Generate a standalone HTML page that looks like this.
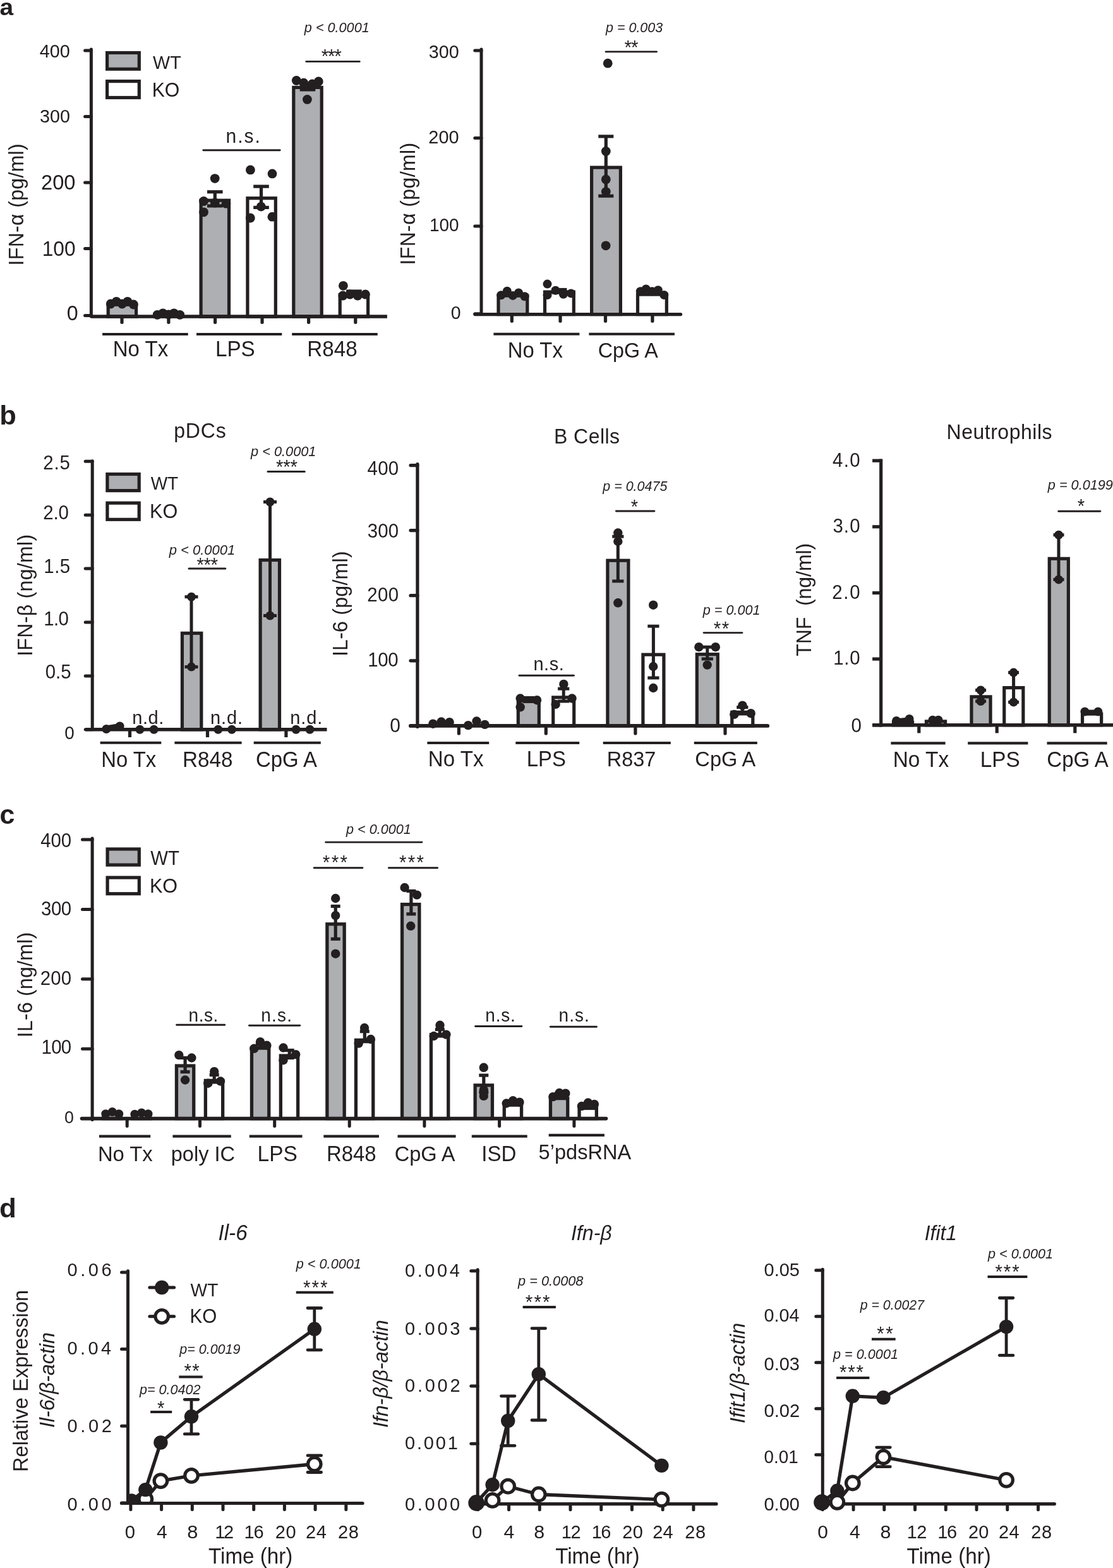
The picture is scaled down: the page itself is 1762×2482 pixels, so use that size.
<!DOCTYPE html>
<html lang="en"><head><meta charset="utf-8"><title>Figure</title>
<style>
html,body{margin:0;padding:0;background:#fff;}
body{width:1762px;height:2482px;overflow:hidden;}
svg{display:block;}
svg text{font-family:"Liberation Sans",Arial,Helvetica,sans-serif;fill:#231f20;}
</style></head>
<body>
<svg width="1762" height="2482" viewBox="0 0 1762 2482">
<rect x="0" y="0" width="1762" height="2482" fill="#ffffff"/>
<g id="panel-a1">
<text transform="translate(-0.57 23.80) scale(1.0383 1)" style="font-size:37.44px;font-weight:bold;">a</text>
<text transform="translate(37.20 420.46) rotate(-90) scale(0.9615 1)" style="font-size:33.28px;letter-spacing:0.359px;white-space:pre;" xml:space="preserve">IFN-α (pg/ml)</text>
<rect x="171.20" y="482.10" width="44.40" height="18.90" fill="#adafb2" stroke="#231f20" stroke-width="5.2"/>
<rect x="244.80" y="497.60" width="44.40" height="3.40" fill="#fff" stroke="#231f20" stroke-width="5.2"/>
<rect x="318.10" y="317.20" width="44.40" height="183.80" fill="#adafb2" stroke="#231f20" stroke-width="5.2"/>
<rect x="391.90" y="313.70" width="44.40" height="187.30" fill="#fff" stroke="#231f20" stroke-width="5.2"/>
<rect x="464.80" y="138.40" width="44.40" height="362.60" fill="#adafb2" stroke="#231f20" stroke-width="5.2"/>
<rect x="538.20" y="466.50" width="44.40" height="34.50" fill="#fff" stroke="#231f20" stroke-width="5.2"/>
<line x1="340.30" y1="303.70" x2="340.30" y2="325.90" stroke="#231f20" stroke-width="5.2" stroke-linecap="butt"/>
<line x1="328.00" y1="303.70" x2="352.60" y2="303.70" stroke="#231f20" stroke-width="5.2" stroke-linecap="butt"/>
<line x1="328.00" y1="325.90" x2="352.60" y2="325.90" stroke="#231f20" stroke-width="5.2" stroke-linecap="butt"/>
<line x1="413.50" y1="295.10" x2="413.50" y2="328.40" stroke="#231f20" stroke-width="5.2" stroke-linecap="butt"/>
<line x1="401.20" y1="295.10" x2="425.80" y2="295.10" stroke="#231f20" stroke-width="5.2" stroke-linecap="butt"/>
<line x1="401.20" y1="328.40" x2="425.80" y2="328.40" stroke="#231f20" stroke-width="5.2" stroke-linecap="butt"/>
<line x1="487.00" y1="133.00" x2="487.00" y2="141.90" stroke="#231f20" stroke-width="5.2" stroke-linecap="butt"/>
<line x1="474.70" y1="133.00" x2="499.30" y2="133.00" stroke="#231f20" stroke-width="5.2" stroke-linecap="butt"/>
<line x1="474.70" y1="141.90" x2="499.30" y2="141.90" stroke="#231f20" stroke-width="5.2" stroke-linecap="butt"/>
<line x1="560.40" y1="461.00" x2="560.40" y2="467.00" stroke="#231f20" stroke-width="5.2" stroke-linecap="butt"/>
<line x1="548.10" y1="461.00" x2="572.70" y2="461.00" stroke="#231f20" stroke-width="5.2" stroke-linecap="butt"/>
<line x1="548.10" y1="467.00" x2="572.70" y2="467.00" stroke="#231f20" stroke-width="5.2" stroke-linecap="butt"/>
<line x1="144.40" y1="77.90" x2="144.40" y2="501.00" stroke="#231f20" stroke-width="5.0" stroke-linecap="round"/>
<line x1="134.60" y1="79.90" x2="144.40" y2="79.90" stroke="#231f20" stroke-width="5.0" stroke-linecap="round"/>
<line x1="134.60" y1="184.50" x2="144.40" y2="184.50" stroke="#231f20" stroke-width="5.0" stroke-linecap="round"/>
<line x1="134.60" y1="289.10" x2="144.40" y2="289.10" stroke="#231f20" stroke-width="5.0" stroke-linecap="round"/>
<line x1="134.60" y1="393.60" x2="144.40" y2="393.60" stroke="#231f20" stroke-width="5.0" stroke-linecap="round"/>
<line x1="134.60" y1="499.50" x2="144.40" y2="499.50" stroke="#231f20" stroke-width="5.0" stroke-linecap="round"/>
<line x1="144.40" y1="501.00" x2="612.90" y2="501.00" stroke="#231f20" stroke-width="5.4" stroke-linecap="butt"/>
<line x1="193.00" y1="501.00" x2="193.00" y2="510.20" stroke="#231f20" stroke-width="5.2" stroke-linecap="round"/>
<line x1="266.90" y1="501.00" x2="266.90" y2="510.20" stroke="#231f20" stroke-width="5.2" stroke-linecap="round"/>
<line x1="340.60" y1="501.00" x2="340.60" y2="510.20" stroke="#231f20" stroke-width="5.2" stroke-linecap="round"/>
<line x1="415.00" y1="501.00" x2="415.00" y2="510.20" stroke="#231f20" stroke-width="5.2" stroke-linecap="round"/>
<line x1="488.60" y1="501.00" x2="488.60" y2="510.20" stroke="#231f20" stroke-width="5.2" stroke-linecap="round"/>
<line x1="562.80" y1="501.00" x2="562.80" y2="510.20" stroke="#231f20" stroke-width="5.2" stroke-linecap="round"/>
<text transform="translate(62.75 91.00) scale(0.9615 1)" style="font-size:30.02px;">400</text>
<text transform="translate(62.92 194.00) scale(0.9615 1)" style="font-size:29.91px;">300</text>
<text transform="translate(65.07 300.20) scale(0.9615 1)" style="font-size:33.96px;">200</text>
<text transform="translate(66.73 405.20) scale(0.9615 1)" style="font-size:32.91px;">100</text>
<text transform="translate(105.81 507.10) scale(0.9615 1)" style="font-size:33.54px;">0</text>
<circle cx="175.20" cy="481.00" r="7.4" fill="#231f20"/>
<circle cx="184.30" cy="477.30" r="7.4" fill="#231f20"/>
<circle cx="193.30" cy="481.00" r="7.4" fill="#231f20"/>
<circle cx="201.90" cy="477.30" r="7.4" fill="#231f20"/>
<circle cx="211.40" cy="482.00" r="7.4" fill="#231f20"/>
<circle cx="249.10" cy="498.30" r="7.4" fill="#231f20"/>
<circle cx="257.90" cy="495.80" r="7.4" fill="#231f20"/>
<circle cx="266.90" cy="497.80" r="7.4" fill="#231f20"/>
<circle cx="275.40" cy="495.80" r="7.4" fill="#231f20"/>
<circle cx="284.70" cy="498.30" r="7.4" fill="#231f20"/>
<circle cx="340.20" cy="282.60" r="7.4" fill="#231f20"/>
<circle cx="322.50" cy="318.50" r="7.4" fill="#231f20"/>
<circle cx="322.50" cy="335.80" r="7.4" fill="#231f20"/>
<circle cx="357.90" cy="322.20" r="7.4" fill="#231f20"/>
<circle cx="340.30" cy="321.00" r="7.4" fill="#231f20"/>
<circle cx="396.40" cy="268.90" r="7.4" fill="#231f20"/>
<circle cx="431.00" cy="274.90" r="7.4" fill="#231f20"/>
<circle cx="413.30" cy="327.10" r="7.4" fill="#231f20"/>
<circle cx="396.30" cy="345.00" r="7.4" fill="#231f20"/>
<circle cx="430.90" cy="343.20" r="7.4" fill="#231f20"/>
<circle cx="469.30" cy="127.50" r="7.4" fill="#231f20"/>
<circle cx="480.80" cy="131.20" r="7.4" fill="#231f20"/>
<circle cx="494.30" cy="133.00" r="7.4" fill="#231f20"/>
<circle cx="504.30" cy="129.00" r="7.4" fill="#231f20"/>
<circle cx="486.40" cy="157.40" r="7.4" fill="#231f20"/>
<circle cx="543.40" cy="452.30" r="7.4" fill="#231f20"/>
<circle cx="542.80" cy="468.00" r="7.4" fill="#231f20"/>
<circle cx="554.00" cy="466.00" r="7.4" fill="#231f20"/>
<circle cx="566.20" cy="468.00" r="7.4" fill="#231f20"/>
<circle cx="578.40" cy="466.00" r="7.4" fill="#231f20"/>
<line x1="162.10" y1="529.00" x2="297.70" y2="529.00" stroke="#231f20" stroke-width="4.1" stroke-linecap="butt"/>
<line x1="311.00" y1="529.00" x2="446.30" y2="529.00" stroke="#231f20" stroke-width="4.1" stroke-linecap="butt"/>
<line x1="462.20" y1="529.00" x2="597.70" y2="529.00" stroke="#231f20" stroke-width="4.1" stroke-linecap="butt"/>
<text transform="translate(178.78 563.80) scale(0.9615 1)" style="font-size:34.31px;">No Tx</text>
<text transform="translate(340.96 563.90) scale(0.9615 1)" style="font-size:34.57px;">LPS</text>
<text transform="translate(486.26 563.90) scale(0.9615 1)" style="font-size:34.53px;">R848</text>
<rect x="169.60" y="83.50" width="50.70" height="25.80" fill="#adafb2" stroke="#231f20" stroke-width="5.2"/>
<rect x="169.60" y="128.60" width="50.70" height="25.90" fill="#fff" stroke="#231f20" stroke-width="5.2"/>
<text transform="translate(242.06 109.30) scale(0.9615 1)" style="font-size:29.89px;">WT</text>
<text transform="translate(240.71 153.00) scale(0.9615 1)" style="font-size:31.40px;">KO</text>
<line x1="321.80" y1="237.80" x2="443.20" y2="237.80" stroke="#231f20" stroke-width="2.9" stroke-linecap="round"/>
<text transform="translate(357.48 225.90) scale(0.9615 1)" style="font-size:31.20px;letter-spacing:2.063px;">n.s.</text>
<line x1="484.80" y1="97.40" x2="569.20" y2="97.40" stroke="#231f20" stroke-width="2.9" stroke-linecap="round"/>
<text transform="translate(508.78 99.60) scale(0.9615 1)" style="font-size:30.68px;letter-spacing:-1.305px;">***</text>
<text transform="translate(481.84 50.90) scale(0.9615 1)" style="font-size:22.51px;font-style:italic;">p &lt; 0.0001</text>
</g>
<g id="panel-a2">
<text transform="translate(656.60 419.56) rotate(-90) scale(0.9615 1)" style="font-size:33.28px;letter-spacing:0.402px;white-space:pre;" xml:space="preserve">IFN-α (pg/ml)</text>
<rect x="789.00" y="468.10" width="45.80" height="29.50" fill="#adafb2" stroke="#231f20" stroke-width="5.2"/>
<rect x="862.50" y="462.10" width="45.80" height="35.50" fill="#fff" stroke="#231f20" stroke-width="5.2"/>
<rect x="936.60" y="265.10" width="45.80" height="232.50" fill="#adafb2" stroke="#231f20" stroke-width="5.2"/>
<rect x="1009.50" y="466.10" width="45.80" height="31.50" fill="#fff" stroke="#231f20" stroke-width="5.2"/>
<line x1="959.30" y1="215.90" x2="959.30" y2="310.20" stroke="#231f20" stroke-width="5.2" stroke-linecap="butt"/>
<line x1="947.30" y1="215.90" x2="971.30" y2="215.90" stroke="#231f20" stroke-width="5.2" stroke-linecap="butt"/>
<line x1="947.30" y1="310.20" x2="971.30" y2="310.20" stroke="#231f20" stroke-width="5.2" stroke-linecap="butt"/>
<line x1="885.40" y1="458.50" x2="885.40" y2="463.00" stroke="#231f20" stroke-width="5.2" stroke-linecap="butt"/>
<line x1="873.40" y1="458.50" x2="897.40" y2="458.50" stroke="#231f20" stroke-width="5.2" stroke-linecap="butt"/>
<line x1="873.40" y1="463.00" x2="897.40" y2="463.00" stroke="#231f20" stroke-width="5.2" stroke-linecap="butt"/>
<line x1="762.00" y1="78.00" x2="762.00" y2="497.60" stroke="#231f20" stroke-width="5.0" stroke-linecap="round"/>
<line x1="751.80" y1="79.90" x2="762.00" y2="79.90" stroke="#231f20" stroke-width="5.0" stroke-linecap="round"/>
<line x1="751.80" y1="218.50" x2="762.00" y2="218.50" stroke="#231f20" stroke-width="5.0" stroke-linecap="round"/>
<line x1="751.80" y1="357.90" x2="762.00" y2="357.90" stroke="#231f20" stroke-width="5.0" stroke-linecap="round"/>
<line x1="751.80" y1="496.80" x2="762.00" y2="496.80" stroke="#231f20" stroke-width="5.0" stroke-linecap="round"/>
<line x1="752.00" y1="497.60" x2="1077.50" y2="497.60" stroke="#231f20" stroke-width="5.4" stroke-linecap="round"/>
<line x1="810.30" y1="497.60" x2="810.30" y2="508.20" stroke="#231f20" stroke-width="5.2" stroke-linecap="round"/>
<line x1="887.00" y1="497.60" x2="887.00" y2="508.20" stroke="#231f20" stroke-width="5.2" stroke-linecap="round"/>
<line x1="958.50" y1="497.60" x2="958.50" y2="508.20" stroke="#231f20" stroke-width="5.2" stroke-linecap="round"/>
<line x1="1032.90" y1="497.60" x2="1032.90" y2="508.20" stroke="#231f20" stroke-width="5.2" stroke-linecap="round"/>
<text transform="translate(678.72 92.20) scale(0.9615 1)" style="font-size:29.84px;">300</text>
<text transform="translate(678.35 226.70) scale(0.9615 1)" style="font-size:30.08px;">200</text>
<text transform="translate(680.01 365.80) scale(0.9615 1)" style="font-size:29.03px;">100</text>
<text transform="translate(713.66 504.50) scale(0.9615 1)" style="font-size:29.62px;">0</text>
<circle cx="793.30" cy="467.30" r="7.0" fill="#231f20"/>
<circle cx="802.80" cy="460.80" r="7.0" fill="#231f20"/>
<circle cx="811.80" cy="467.90" r="7.0" fill="#231f20"/>
<circle cx="821.00" cy="463.50" r="7.0" fill="#231f20"/>
<circle cx="830.60" cy="469.30" r="7.0" fill="#231f20"/>
<circle cx="866.50" cy="449.60" r="7.0" fill="#231f20"/>
<circle cx="866.50" cy="467.00" r="7.0" fill="#231f20"/>
<circle cx="879.50" cy="459.80" r="7.0" fill="#231f20"/>
<circle cx="891.90" cy="465.80" r="7.0" fill="#231f20"/>
<circle cx="904.00" cy="464.40" r="7.0" fill="#231f20"/>
<circle cx="962.20" cy="100.20" r="7.4" fill="#231f20"/>
<circle cx="959.30" cy="239.40" r="7.4" fill="#231f20"/>
<circle cx="959.30" cy="284.00" r="7.4" fill="#231f20"/>
<circle cx="959.30" cy="303.60" r="7.4" fill="#231f20"/>
<circle cx="959.10" cy="388.80" r="7.4" fill="#231f20"/>
<circle cx="1013.80" cy="461.20" r="7.0" fill="#231f20"/>
<circle cx="1022.70" cy="457.40" r="7.0" fill="#231f20"/>
<circle cx="1032.30" cy="461.20" r="7.0" fill="#231f20"/>
<circle cx="1041.80" cy="459.20" r="7.0" fill="#231f20"/>
<circle cx="1051.40" cy="467.00" r="7.0" fill="#231f20"/>
<line x1="781.40" y1="528.70" x2="917.40" y2="528.70" stroke="#231f20" stroke-width="4.1" stroke-linecap="butt"/>
<line x1="932.40" y1="528.70" x2="1067.90" y2="528.70" stroke="#231f20" stroke-width="4.1" stroke-linecap="butt"/>
<text transform="translate(803.79 565.70) scale(0.9615 1)" style="font-size:34.19px;">No Tx</text>
<text transform="translate(946.79 565.70) scale(0.9615 1)" style="font-size:33.55px;">CpG A</text>
<line x1="959.10" y1="81.90" x2="1039.50" y2="81.90" stroke="#231f20" stroke-width="2.9" stroke-linecap="round"/>
<text transform="translate(988.38 86.00) scale(0.9615 1)" style="font-size:30.68px;letter-spacing:-0.913px;">**</text>
<text transform="translate(959.04 51.00) scale(0.9615 1)" style="font-size:22.35px;font-style:italic;">p = 0.003</text>
</g>
<g id="panel-b1">
<text transform="translate(-0.83 671.80) scale(1.0094 1)" style="font-size:43.16px;font-weight:bold;">b</text>
<text transform="translate(275.22 693.30) scale(0.9615 1)" style="font-size:33.28px;letter-spacing:0.867px;">pDCs</text>
<text transform="translate(50.60 1038.86) rotate(-90) scale(0.9615 1)" style="font-size:33.28px;letter-spacing:0.348px;white-space:pre;" xml:space="preserve">IFN-β (ng/ml)</text>
<rect x="288.40" y="1002.30" width="30.40" height="152.50" fill="#adafb2" stroke="#231f20" stroke-width="5.2"/>
<rect x="412.10" y="886.50" width="30.40" height="268.30" fill="#adafb2" stroke="#231f20" stroke-width="5.2"/>
<line x1="303.00" y1="944.70" x2="303.00" y2="1055.60" stroke="#231f20" stroke-width="5.0" stroke-linecap="butt"/>
<line x1="292.50" y1="944.70" x2="313.50" y2="944.70" stroke="#231f20" stroke-width="5.0" stroke-linecap="butt"/>
<line x1="292.50" y1="1055.60" x2="313.50" y2="1055.60" stroke="#231f20" stroke-width="5.0" stroke-linecap="butt"/>
<line x1="427.50" y1="794.50" x2="427.50" y2="974.50" stroke="#231f20" stroke-width="5.0" stroke-linecap="butt"/>
<line x1="417.00" y1="794.50" x2="438.00" y2="794.50" stroke="#231f20" stroke-width="5.0" stroke-linecap="butt"/>
<line x1="417.00" y1="974.50" x2="438.00" y2="974.50" stroke="#231f20" stroke-width="5.0" stroke-linecap="butt"/>
<line x1="146.20" y1="729.80" x2="146.20" y2="1154.80" stroke="#231f20" stroke-width="5.0" stroke-linecap="round"/>
<line x1="135.20" y1="730.30" x2="146.20" y2="730.30" stroke="#231f20" stroke-width="5.0" stroke-linecap="round"/>
<line x1="135.20" y1="815.20" x2="146.20" y2="815.20" stroke="#231f20" stroke-width="5.0" stroke-linecap="round"/>
<line x1="135.20" y1="900.10" x2="146.20" y2="900.10" stroke="#231f20" stroke-width="5.0" stroke-linecap="round"/>
<line x1="135.20" y1="985.00" x2="146.20" y2="985.00" stroke="#231f20" stroke-width="5.0" stroke-linecap="round"/>
<line x1="135.20" y1="1069.90" x2="146.20" y2="1069.90" stroke="#231f20" stroke-width="5.0" stroke-linecap="round"/>
<line x1="135.20" y1="1154.80" x2="146.20" y2="1154.80" stroke="#231f20" stroke-width="5.0" stroke-linecap="round"/>
<line x1="135.20" y1="1154.80" x2="517.50" y2="1154.80" stroke="#231f20" stroke-width="5.4" stroke-linecap="butt"/>
<line x1="205.50" y1="1154.80" x2="205.50" y2="1167.00" stroke="#231f20" stroke-width="5.2" stroke-linecap="butt"/>
<line x1="328.50" y1="1154.80" x2="328.50" y2="1167.00" stroke="#231f20" stroke-width="5.2" stroke-linecap="butt"/>
<line x1="452.90" y1="1154.80" x2="452.90" y2="1167.00" stroke="#231f20" stroke-width="5.2" stroke-linecap="butt"/>
<text transform="translate(68.23 743.20) scale(0.9615 1)" style="font-size:30.58px;letter-spacing:0.874px;">2.5</text>
<text transform="translate(68.23 821.50) scale(0.9615 1)" style="font-size:30.58px;letter-spacing:-0.153px;">2.0</text>
<text transform="translate(69.30 906.80) scale(0.9615 1)" style="font-size:30.58px;letter-spacing:0.528px;">1.5</text>
<text transform="translate(69.30 989.70) scale(0.9615 1)" style="font-size:30.58px;letter-spacing:-0.706px;">1.0</text>
<text transform="translate(71.72 1073.60) scale(0.9615 1)" style="font-size:30.58px;letter-spacing:-0.007px;">0.5</text>
<text transform="translate(102.19 1169.90) scale(0.9615 1)" style="font-size:28.97px;">0</text>
<line x1="168.40" y1="1152.50" x2="189.60" y2="1149.00" stroke="#231f20" stroke-width="8" stroke-linecap="round"/>
<circle cx="168.40" cy="1154.00" r="7.0" fill="#231f20"/>
<circle cx="189.60" cy="1149.50" r="7.0" fill="#231f20"/>
<circle cx="221.40" cy="1154.80" r="7.0" fill="#231f20"/>
<circle cx="243.70" cy="1154.80" r="7.0" fill="#231f20"/>
<circle cx="345.30" cy="1154.80" r="7.0" fill="#231f20"/>
<circle cx="367.00" cy="1154.80" r="7.0" fill="#231f20"/>
<circle cx="468.60" cy="1154.80" r="7.0" fill="#231f20"/>
<circle cx="490.50" cy="1154.80" r="7.0" fill="#231f20"/>
<circle cx="303.00" cy="944.70" r="7.0" fill="#231f20"/>
<circle cx="303.00" cy="1055.60" r="7.0" fill="#231f20"/>
<circle cx="427.50" cy="794.50" r="7.0" fill="#231f20"/>
<circle cx="427.50" cy="974.50" r="7.0" fill="#231f20"/>
<text transform="translate(209.34 1146.30) scale(0.9615 1)" style="font-size:30.16px;letter-spacing:0.523px;">n.d.</text>
<text transform="translate(332.94 1146.30) scale(0.9615 1)" style="font-size:30.16px;letter-spacing:0.939px;">n.d.</text>
<text transform="translate(459.34 1146.30) scale(0.9615 1)" style="font-size:30.16px;letter-spacing:0.905px;">n.d.</text>
<line x1="158.60" y1="1175.70" x2="255.30" y2="1175.70" stroke="#231f20" stroke-width="4.1" stroke-linecap="butt"/>
<line x1="276.40" y1="1175.70" x2="382.60" y2="1175.70" stroke="#231f20" stroke-width="4.1" stroke-linecap="butt"/>
<line x1="401.70" y1="1175.70" x2="507.80" y2="1175.70" stroke="#231f20" stroke-width="4.1" stroke-linecap="butt"/>
<text transform="translate(160.19 1214.00) scale(0.9615 1)" style="font-size:34.19px;">No Tx</text>
<text transform="translate(288.96 1214.00) scale(0.9615 1)" style="font-size:34.57px;">R848</text>
<text transform="translate(404.95 1214.00) scale(0.9615 1)" style="font-size:34.27px;">CpG A</text>
<rect x="169.90" y="750.50" width="50.30" height="26.10" fill="#adafb2" stroke="#231f20" stroke-width="5.2"/>
<rect x="169.90" y="796.20" width="50.30" height="26.10" fill="#fff" stroke="#231f20" stroke-width="5.2"/>
<text transform="translate(238.66 775.40) scale(0.9615 1)" style="font-size:29.14px;">WT</text>
<text transform="translate(237.07 819.70) scale(0.9615 1)" style="font-size:31.87px;">KO</text>
<line x1="299.00" y1="900.10" x2="356.80" y2="900.10" stroke="#231f20" stroke-width="3.0" stroke-linecap="round"/>
<text transform="translate(311.48 904.80) scale(0.9615 1)" style="font-size:30.68px;letter-spacing:-0.525px;">***</text>
<text transform="translate(267.65 878.20) scale(0.9615 1)" style="font-size:22.88px;font-style:italic;">p &lt; 0.0001</text>
<line x1="424.00" y1="746.50" x2="482.20" y2="746.50" stroke="#231f20" stroke-width="3.0" stroke-linecap="round"/>
<text transform="translate(437.08 750.00) scale(0.9615 1)" style="font-size:30.68px;letter-spacing:-0.213px;">***</text>
<text transform="translate(397.04 722.30) scale(0.9615 1)" style="font-size:22.64px;font-style:italic;">p &lt; 0.0001</text>
</g>
<g id="panel-b2">
<text transform="translate(876.96 701.90) scale(0.9615 1)" style="font-size:33.28px;letter-spacing:0.485px;">B Cells</text>
<text transform="translate(550.30 1039.06) rotate(-90) scale(0.9615 1)" style="font-size:33.28px;letter-spacing:0.299px;white-space:pre;" xml:space="preserve">IL-6 (pg/ml)</text>
<rect x="820.30" y="1107.60" width="33.00" height="41.30" fill="#adafb2" stroke="#231f20" stroke-width="5.2"/>
<rect x="875.70" y="1103.90" width="33.00" height="45.00" fill="#fff" stroke="#231f20" stroke-width="5.2"/>
<rect x="961.90" y="887.20" width="33.00" height="261.70" fill="#adafb2" stroke="#231f20" stroke-width="5.2"/>
<rect x="1017.90" y="1036.20" width="33.00" height="112.70" fill="#fff" stroke="#231f20" stroke-width="5.2"/>
<rect x="1103.30" y="1035.70" width="33.00" height="113.20" fill="#adafb2" stroke="#231f20" stroke-width="5.2"/>
<rect x="1158.80" y="1127.30" width="33.00" height="21.60" fill="#fff" stroke="#231f20" stroke-width="5.2"/>
<line x1="836.80" y1="1104.50" x2="836.80" y2="1110.50" stroke="#231f20" stroke-width="5.0" stroke-linecap="butt"/>
<line x1="827.70" y1="1104.50" x2="845.90" y2="1104.50" stroke="#231f20" stroke-width="5.0" stroke-linecap="butt"/>
<line x1="827.70" y1="1110.50" x2="845.90" y2="1110.50" stroke="#231f20" stroke-width="5.0" stroke-linecap="butt"/>
<line x1="892.20" y1="1090.20" x2="892.20" y2="1110.00" stroke="#231f20" stroke-width="5.0" stroke-linecap="butt"/>
<line x1="883.10" y1="1090.20" x2="901.30" y2="1090.20" stroke="#231f20" stroke-width="5.0" stroke-linecap="butt"/>
<line x1="883.10" y1="1110.00" x2="901.30" y2="1110.00" stroke="#231f20" stroke-width="5.0" stroke-linecap="butt"/>
<line x1="978.30" y1="849.20" x2="978.30" y2="919.90" stroke="#231f20" stroke-width="5.0" stroke-linecap="butt"/>
<line x1="969.20" y1="849.20" x2="987.40" y2="849.20" stroke="#231f20" stroke-width="5.0" stroke-linecap="butt"/>
<line x1="969.20" y1="919.90" x2="987.40" y2="919.90" stroke="#231f20" stroke-width="5.0" stroke-linecap="butt"/>
<line x1="1034.40" y1="991.20" x2="1034.40" y2="1073.00" stroke="#231f20" stroke-width="5.0" stroke-linecap="butt"/>
<line x1="1025.30" y1="991.20" x2="1043.50" y2="991.20" stroke="#231f20" stroke-width="5.0" stroke-linecap="butt"/>
<line x1="1025.30" y1="1073.00" x2="1043.50" y2="1073.00" stroke="#231f20" stroke-width="5.0" stroke-linecap="butt"/>
<line x1="1119.80" y1="1024.20" x2="1119.80" y2="1043.00" stroke="#231f20" stroke-width="5.0" stroke-linecap="butt"/>
<line x1="1110.70" y1="1024.20" x2="1128.90" y2="1024.20" stroke="#231f20" stroke-width="5.0" stroke-linecap="butt"/>
<line x1="1110.70" y1="1043.00" x2="1128.90" y2="1043.00" stroke="#231f20" stroke-width="5.0" stroke-linecap="butt"/>
<line x1="1175.30" y1="1119.50" x2="1175.30" y2="1130.00" stroke="#231f20" stroke-width="5.0" stroke-linecap="butt"/>
<line x1="1166.20" y1="1119.50" x2="1184.40" y2="1119.50" stroke="#231f20" stroke-width="5.0" stroke-linecap="butt"/>
<line x1="1166.20" y1="1130.00" x2="1184.40" y2="1130.00" stroke="#231f20" stroke-width="5.0" stroke-linecap="butt"/>
<line x1="660.90" y1="734.60" x2="660.90" y2="1150.50" stroke="#231f20" stroke-width="5.2" stroke-linecap="round"/>
<line x1="650.00" y1="736.60" x2="660.90" y2="736.60" stroke="#231f20" stroke-width="5.2" stroke-linecap="round"/>
<line x1="650.00" y1="839.60" x2="660.90" y2="839.60" stroke="#231f20" stroke-width="5.2" stroke-linecap="round"/>
<line x1="650.00" y1="942.70" x2="660.90" y2="942.70" stroke="#231f20" stroke-width="5.2" stroke-linecap="round"/>
<line x1="650.00" y1="1045.80" x2="660.90" y2="1045.80" stroke="#231f20" stroke-width="5.2" stroke-linecap="round"/>
<line x1="650.00" y1="1148.90" x2="660.90" y2="1148.90" stroke="#231f20" stroke-width="5.2" stroke-linecap="round"/>
<line x1="650.00" y1="1148.90" x2="1215.20" y2="1148.90" stroke="#231f20" stroke-width="5.8" stroke-linecap="round"/>
<line x1="726.40" y1="1148.90" x2="726.40" y2="1161.00" stroke="#231f20" stroke-width="5.2" stroke-linecap="round"/>
<line x1="864.30" y1="1148.90" x2="864.30" y2="1161.00" stroke="#231f20" stroke-width="5.2" stroke-linecap="round"/>
<line x1="1005.90" y1="1148.90" x2="1005.90" y2="1161.00" stroke="#231f20" stroke-width="5.2" stroke-linecap="round"/>
<line x1="1148.00" y1="1148.90" x2="1148.00" y2="1161.00" stroke="#231f20" stroke-width="5.2" stroke-linecap="round"/>
<text transform="translate(581.44 751.60) scale(0.9615 1)" style="font-size:30.58px;letter-spacing:0.385px;">400</text>
<text transform="translate(581.70 850.90) scale(0.9615 1)" style="font-size:30.58px;letter-spacing:0.250px;">300</text>
<text transform="translate(581.33 952.40) scale(0.9615 1)" style="font-size:30.58px;letter-spacing:0.441px;">200</text>
<text transform="translate(582.29 1055.30) scale(0.9615 1)" style="font-size:30.58px;letter-spacing:-0.321px;">100</text>
<text transform="translate(617.30 1159.20) scale(0.9615 1)" style="font-size:31.15px;">0</text>
<circle cx="685.50" cy="1145.70" r="7.2" fill="#231f20"/>
<circle cx="698.60" cy="1142.50" r="7.2" fill="#231f20"/>
<circle cx="711.60" cy="1143.20" r="7.2" fill="#231f20"/>
<circle cx="741.20" cy="1148.10" r="7.2" fill="#231f20"/>
<circle cx="754.50" cy="1141.50" r="7.2" fill="#231f20"/>
<circle cx="767.50" cy="1146.90" r="7.2" fill="#231f20"/>
<circle cx="823.70" cy="1105.50" r="7.2" fill="#231f20"/>
<circle cx="850.00" cy="1108.20" r="7.2" fill="#231f20"/>
<circle cx="823.70" cy="1119.30" r="7.2" fill="#231f20"/>
<circle cx="892.40" cy="1082.90" r="7.2" fill="#231f20"/>
<circle cx="905.50" cy="1105.50" r="7.2" fill="#231f20"/>
<circle cx="879.60" cy="1114.90" r="7.2" fill="#231f20"/>
<circle cx="978.30" cy="843.50" r="7.2" fill="#231f20"/>
<circle cx="978.30" cy="857.00" r="7.2" fill="#231f20"/>
<circle cx="978.30" cy="954.30" r="7.2" fill="#231f20"/>
<circle cx="1034.20" cy="957.70" r="7.2" fill="#231f20"/>
<circle cx="1034.20" cy="1055.00" r="7.2" fill="#231f20"/>
<circle cx="1034.20" cy="1089.00" r="7.2" fill="#231f20"/>
<circle cx="1106.40" cy="1024.20" r="7.2" fill="#231f20"/>
<circle cx="1132.80" cy="1024.20" r="7.2" fill="#231f20"/>
<circle cx="1119.70" cy="1052.60" r="7.2" fill="#231f20"/>
<circle cx="1175.40" cy="1116.60" r="7.2" fill="#231f20"/>
<circle cx="1162.30" cy="1130.90" r="7.2" fill="#231f20"/>
<circle cx="1188.70" cy="1129.20" r="7.2" fill="#231f20"/>
<line x1="676.40" y1="1176.00" x2="774.20" y2="1176.00" stroke="#231f20" stroke-width="4.1" stroke-linecap="butt"/>
<line x1="816.30" y1="1176.00" x2="917.20" y2="1176.00" stroke="#231f20" stroke-width="4.1" stroke-linecap="butt"/>
<line x1="954.70" y1="1176.00" x2="1061.80" y2="1176.00" stroke="#231f20" stroke-width="4.1" stroke-linecap="butt"/>
<line x1="1098.80" y1="1176.00" x2="1198.80" y2="1176.00" stroke="#231f20" stroke-width="4.1" stroke-linecap="butt"/>
<text transform="translate(677.87 1212.90) scale(0.9615 1)" style="font-size:34.40px;">No Tx</text>
<text transform="translate(833.79 1212.90) scale(0.9615 1)" style="font-size:34.21px;">LPS</text>
<text transform="translate(960.82 1212.90) scale(0.9615 1)" style="font-size:33.72px;">R837</text>
<text transform="translate(1100.37 1212.90) scale(0.9615 1)" style="font-size:33.88px;">CpG A</text>
<line x1="822.00" y1="1069.30" x2="908.40" y2="1069.30" stroke="#231f20" stroke-width="2.9" stroke-linecap="round"/>
<text transform="translate(844.44 1060.70) scale(0.9615 1)" style="font-size:30.16px;letter-spacing:0.556px;">n.s.</text>
<line x1="975.40" y1="809.00" x2="1035.90" y2="809.00" stroke="#231f20" stroke-width="2.9" stroke-linecap="round"/>
<text transform="translate(998.79 813.00) scale(0.9457 1)" style="font-size:30.68px;">*</text>
<text transform="translate(954.24 776.50) scale(0.9615 1)" style="font-size:22.34px;font-style:italic;">p = 0.0475</text>
<line x1="1114.10" y1="1001.60" x2="1174.90" y2="1001.60" stroke="#231f20" stroke-width="2.9" stroke-linecap="round"/>
<text transform="translate(1129.78 1006.00) scale(0.9615 1)" style="font-size:30.68px;letter-spacing:1.479px;">**</text>
<text transform="translate(1112.84 973.30) scale(0.9615 1)" style="font-size:22.46px;font-style:italic;">p = 0.001</text>
</g>
<g id="panel-b3">
<text transform="translate(1498.56 694.50) scale(0.9615 1)" style="font-size:33.28px;letter-spacing:0.543px;">Neutrophils</text>
<text transform="translate(1283.70 1038.72) rotate(-90) scale(0.9615 1)" style="font-size:33.28px;letter-spacing:-0.047px;white-space:pre;" xml:space="preserve">TNF  (ng/ml)</text>
<rect x="1414.45" y="1143.10" width="30.10" height="4.70" fill="#adafb2" stroke="#231f20" stroke-width="5.2"/>
<rect x="1466.45" y="1141.90" width="30.10" height="5.90" fill="#fff" stroke="#231f20" stroke-width="5.2"/>
<rect x="1537.95" y="1102.90" width="30.10" height="44.90" fill="#adafb2" stroke="#231f20" stroke-width="5.2"/>
<rect x="1589.75" y="1088.60" width="30.10" height="59.20" fill="#fff" stroke="#231f20" stroke-width="5.2"/>
<rect x="1661.25" y="884.30" width="30.10" height="263.50" fill="#adafb2" stroke="#231f20" stroke-width="5.2"/>
<rect x="1713.55" y="1130.10" width="30.10" height="17.70" fill="#fff" stroke="#231f20" stroke-width="5.2"/>
<line x1="1552.60" y1="1092.50" x2="1552.60" y2="1110.00" stroke="#231f20" stroke-width="5.0" stroke-linecap="butt"/>
<line x1="1544.10" y1="1092.50" x2="1561.10" y2="1092.50" stroke="#231f20" stroke-width="5.0" stroke-linecap="butt"/>
<line x1="1544.10" y1="1110.00" x2="1561.10" y2="1110.00" stroke="#231f20" stroke-width="5.0" stroke-linecap="butt"/>
<line x1="1604.60" y1="1064.60" x2="1604.60" y2="1111.40" stroke="#231f20" stroke-width="5.0" stroke-linecap="butt"/>
<line x1="1596.10" y1="1064.60" x2="1613.10" y2="1064.60" stroke="#231f20" stroke-width="5.0" stroke-linecap="butt"/>
<line x1="1596.10" y1="1111.40" x2="1613.10" y2="1111.40" stroke="#231f20" stroke-width="5.0" stroke-linecap="butt"/>
<line x1="1676.00" y1="846.70" x2="1676.00" y2="917.40" stroke="#231f20" stroke-width="5.0" stroke-linecap="butt"/>
<line x1="1667.50" y1="846.70" x2="1684.50" y2="846.70" stroke="#231f20" stroke-width="5.0" stroke-linecap="butt"/>
<line x1="1667.50" y1="917.40" x2="1684.50" y2="917.40" stroke="#231f20" stroke-width="5.0" stroke-linecap="butt"/>
<line x1="1394.70" y1="726.60" x2="1394.70" y2="1150.40" stroke="#231f20" stroke-width="5.2" stroke-linecap="butt"/>
<line x1="1381.10" y1="729.20" x2="1394.70" y2="729.20" stroke="#231f20" stroke-width="5.2" stroke-linecap="butt"/>
<line x1="1381.10" y1="833.80" x2="1394.70" y2="833.80" stroke="#231f20" stroke-width="5.2" stroke-linecap="butt"/>
<line x1="1381.10" y1="938.50" x2="1394.70" y2="938.50" stroke="#231f20" stroke-width="5.2" stroke-linecap="butt"/>
<line x1="1381.10" y1="1043.10" x2="1394.70" y2="1043.10" stroke="#231f20" stroke-width="5.2" stroke-linecap="butt"/>
<line x1="1381.10" y1="1147.80" x2="1394.70" y2="1147.80" stroke="#231f20" stroke-width="5.2" stroke-linecap="butt"/>
<line x1="1381.10" y1="1147.80" x2="1775.00" y2="1147.80" stroke="#231f20" stroke-width="5.4" stroke-linecap="butt"/>
<line x1="1454.80" y1="1147.80" x2="1454.80" y2="1160.40" stroke="#231f20" stroke-width="5.2" stroke-linecap="butt"/>
<line x1="1578.20" y1="1147.80" x2="1578.20" y2="1160.40" stroke="#231f20" stroke-width="5.2" stroke-linecap="butt"/>
<line x1="1701.80" y1="1147.80" x2="1701.80" y2="1160.40" stroke="#231f20" stroke-width="5.2" stroke-linecap="butt"/>
<text transform="translate(1317.94 738.60) scale(0.9615 1)" style="font-size:30.58px;letter-spacing:1.403px;">4.0</text>
<text transform="translate(1318.40 843.10) scale(0.9615 1)" style="font-size:30.58px;letter-spacing:1.164px;">3.0</text>
<text transform="translate(1317.13 947.50) scale(0.9615 1)" style="font-size:30.58px;letter-spacing:1.823px;">2.0</text>
<text transform="translate(1319.20 1052.30) scale(0.9615 1)" style="font-size:30.58px;letter-spacing:0.750px;">1.0</text>
<text transform="translate(1347.42 1159.00) scale(0.9615 1)" style="font-size:30.71px;">0</text>
<line x1="1419.40" y1="1140.60" x2="1439.40" y2="1138.20" stroke="#231f20" stroke-width="6" stroke-linecap="round"/>
<line x1="1717.30" y1="1126.40" x2="1738.10" y2="1126.40" stroke="#231f20" stroke-width="6" stroke-linecap="round"/>
<circle cx="1419.10" cy="1141.00" r="7.0" fill="#231f20"/>
<circle cx="1439.60" cy="1138.00" r="7.0" fill="#231f20"/>
<circle cx="1476.50" cy="1139.80" r="7.0" fill="#231f20"/>
<circle cx="1485.50" cy="1139.80" r="7.0" fill="#231f20"/>
<circle cx="1717.40" cy="1126.40" r="7.0" fill="#231f20"/>
<circle cx="1738.30" cy="1126.40" r="7.0" fill="#231f20"/>
<circle cx="1552.60" cy="1092.50" r="7.0" fill="#231f20"/>
<circle cx="1552.60" cy="1110.00" r="7.0" fill="#231f20"/>
<circle cx="1604.60" cy="1064.60" r="7.0" fill="#231f20"/>
<circle cx="1604.60" cy="1111.40" r="7.0" fill="#231f20"/>
<circle cx="1676.00" cy="846.70" r="7.0" fill="#231f20"/>
<circle cx="1676.00" cy="917.40" r="7.0" fill="#231f20"/>
<line x1="1410.40" y1="1176.40" x2="1496.60" y2="1176.40" stroke="#231f20" stroke-width="4.1" stroke-linecap="butt"/>
<line x1="1532.20" y1="1176.40" x2="1627.40" y2="1176.40" stroke="#231f20" stroke-width="4.1" stroke-linecap="butt"/>
<line x1="1657.50" y1="1176.40" x2="1752.70" y2="1176.40" stroke="#231f20" stroke-width="4.1" stroke-linecap="butt"/>
<text transform="translate(1413.75 1213.80) scale(0.9615 1)" style="font-size:34.72px;">No Tx</text>
<text transform="translate(1551.75 1213.80) scale(0.9615 1)" style="font-size:34.69px;">LPS</text>
<text transform="translate(1657.35 1213.80) scale(0.9615 1)" style="font-size:34.38px;">CpG A</text>
<line x1="1675.80" y1="809.30" x2="1741.80" y2="809.30" stroke="#231f20" stroke-width="2.9" stroke-linecap="round"/>
<text transform="translate(1705.79 812.00) scale(0.9549 1)" style="font-size:30.68px;">*</text>
<text transform="translate(1658.84 775.30) scale(0.9615 1)" style="font-size:22.56px;font-style:italic;">p = 0.0199</text>
</g>
<g id="panel-c">
<text transform="translate(-0.52 1304.00) scale(0.9981 1)" style="font-size:43.16px;font-weight:bold;">c</text>
<text transform="translate(50.50 1642.26) rotate(-90) scale(0.9615 1)" style="font-size:33.28px;letter-spacing:0.289px;white-space:pre;" xml:space="preserve">IL-6 (ng/ml)</text>
<rect x="163.95" y="1763.15" width="27.30" height="7.45" fill="#adafb2" stroke="#231f20" stroke-width="5.3"/>
<rect x="210.25" y="1764.15" width="27.30" height="6.45" fill="#fff" stroke="#231f20" stroke-width="5.3"/>
<rect x="279.45" y="1687.05" width="27.30" height="83.55" fill="#adafb2" stroke="#231f20" stroke-width="5.3"/>
<rect x="325.35" y="1710.45" width="27.30" height="60.15" fill="#fff" stroke="#231f20" stroke-width="5.3"/>
<rect x="398.45" y="1658.65" width="27.30" height="111.95" fill="#adafb2" stroke="#231f20" stroke-width="5.3"/>
<rect x="444.35" y="1671.05" width="27.30" height="99.55" fill="#fff" stroke="#231f20" stroke-width="5.3"/>
<rect x="517.85" y="1462.75" width="27.30" height="307.85" fill="#adafb2" stroke="#231f20" stroke-width="5.3"/>
<rect x="563.45" y="1646.35" width="27.30" height="124.25" fill="#fff" stroke="#231f20" stroke-width="5.3"/>
<rect x="636.55" y="1431.55" width="27.30" height="339.05" fill="#adafb2" stroke="#231f20" stroke-width="5.3"/>
<rect x="682.45" y="1637.75" width="27.30" height="132.85" fill="#fff" stroke="#231f20" stroke-width="5.3"/>
<rect x="752.15" y="1717.85" width="27.30" height="52.75" fill="#adafb2" stroke="#231f20" stroke-width="5.3"/>
<rect x="798.25" y="1749.15" width="27.30" height="21.45" fill="#fff" stroke="#231f20" stroke-width="5.3"/>
<rect x="871.45" y="1738.65" width="27.30" height="31.95" fill="#adafb2" stroke="#231f20" stroke-width="5.3"/>
<rect x="917.05" y="1754.25" width="27.30" height="16.35" fill="#fff" stroke="#231f20" stroke-width="5.3"/>
<line x1="293.10" y1="1674.50" x2="293.10" y2="1696.70" stroke="#231f20" stroke-width="5.2" stroke-linecap="butt"/>
<line x1="285.60" y1="1674.50" x2="300.60" y2="1674.50" stroke="#231f20" stroke-width="5.2" stroke-linecap="butt"/>
<line x1="285.60" y1="1696.70" x2="300.60" y2="1696.70" stroke="#231f20" stroke-width="5.2" stroke-linecap="butt"/>
<line x1="339.20" y1="1701.50" x2="339.20" y2="1713.00" stroke="#231f20" stroke-width="5.2" stroke-linecap="butt"/>
<line x1="331.70" y1="1701.50" x2="346.70" y2="1701.50" stroke="#231f20" stroke-width="5.2" stroke-linecap="butt"/>
<line x1="331.70" y1="1713.00" x2="346.70" y2="1713.00" stroke="#231f20" stroke-width="5.2" stroke-linecap="butt"/>
<line x1="412.30" y1="1653.00" x2="412.30" y2="1659.00" stroke="#231f20" stroke-width="5.2" stroke-linecap="butt"/>
<line x1="404.80" y1="1653.00" x2="419.80" y2="1653.00" stroke="#231f20" stroke-width="5.2" stroke-linecap="butt"/>
<line x1="404.80" y1="1659.00" x2="419.80" y2="1659.00" stroke="#231f20" stroke-width="5.2" stroke-linecap="butt"/>
<line x1="458.20" y1="1662.50" x2="458.20" y2="1674.50" stroke="#231f20" stroke-width="5.2" stroke-linecap="butt"/>
<line x1="450.70" y1="1662.50" x2="465.70" y2="1662.50" stroke="#231f20" stroke-width="5.2" stroke-linecap="butt"/>
<line x1="450.70" y1="1674.50" x2="465.70" y2="1674.50" stroke="#231f20" stroke-width="5.2" stroke-linecap="butt"/>
<line x1="531.20" y1="1434.50" x2="531.20" y2="1486.30" stroke="#231f20" stroke-width="5.2" stroke-linecap="butt"/>
<line x1="523.70" y1="1434.50" x2="538.70" y2="1434.50" stroke="#231f20" stroke-width="5.2" stroke-linecap="butt"/>
<line x1="523.70" y1="1486.30" x2="538.70" y2="1486.30" stroke="#231f20" stroke-width="5.2" stroke-linecap="butt"/>
<line x1="577.30" y1="1632.70" x2="577.30" y2="1648.70" stroke="#231f20" stroke-width="5.2" stroke-linecap="butt"/>
<line x1="569.80" y1="1632.70" x2="584.80" y2="1632.70" stroke="#231f20" stroke-width="5.2" stroke-linecap="butt"/>
<line x1="569.80" y1="1648.70" x2="584.80" y2="1648.70" stroke="#231f20" stroke-width="5.2" stroke-linecap="butt"/>
<line x1="650.90" y1="1410.40" x2="650.90" y2="1446.80" stroke="#231f20" stroke-width="5.2" stroke-linecap="butt"/>
<line x1="643.40" y1="1410.40" x2="658.40" y2="1410.40" stroke="#231f20" stroke-width="5.2" stroke-linecap="butt"/>
<line x1="643.40" y1="1446.80" x2="658.40" y2="1446.80" stroke="#231f20" stroke-width="5.2" stroke-linecap="butt"/>
<line x1="696.30" y1="1629.50" x2="696.30" y2="1640.00" stroke="#231f20" stroke-width="5.2" stroke-linecap="butt"/>
<line x1="688.80" y1="1629.50" x2="703.80" y2="1629.50" stroke="#231f20" stroke-width="5.2" stroke-linecap="butt"/>
<line x1="688.80" y1="1640.00" x2="703.80" y2="1640.00" stroke="#231f20" stroke-width="5.2" stroke-linecap="butt"/>
<line x1="765.80" y1="1702.10" x2="765.80" y2="1729.00" stroke="#231f20" stroke-width="5.2" stroke-linecap="butt"/>
<line x1="758.30" y1="1702.10" x2="773.30" y2="1702.10" stroke="#231f20" stroke-width="5.2" stroke-linecap="butt"/>
<line x1="758.30" y1="1729.00" x2="773.30" y2="1729.00" stroke="#231f20" stroke-width="5.2" stroke-linecap="butt"/>
<line x1="885.30" y1="1731.00" x2="885.30" y2="1737.50" stroke="#231f20" stroke-width="5.2" stroke-linecap="butt"/>
<line x1="877.80" y1="1731.00" x2="892.80" y2="1731.00" stroke="#231f20" stroke-width="5.2" stroke-linecap="butt"/>
<line x1="877.80" y1="1737.50" x2="892.80" y2="1737.50" stroke="#231f20" stroke-width="5.2" stroke-linecap="butt"/>
<line x1="146.10" y1="1327.00" x2="146.10" y2="1772.50" stroke="#231f20" stroke-width="5.0" stroke-linecap="round"/>
<line x1="130.50" y1="1329.10" x2="146.10" y2="1329.10" stroke="#231f20" stroke-width="5.0" stroke-linecap="round"/>
<line x1="130.50" y1="1439.50" x2="146.10" y2="1439.50" stroke="#231f20" stroke-width="5.0" stroke-linecap="round"/>
<line x1="130.50" y1="1549.80" x2="146.10" y2="1549.80" stroke="#231f20" stroke-width="5.0" stroke-linecap="round"/>
<line x1="130.50" y1="1660.20" x2="146.10" y2="1660.20" stroke="#231f20" stroke-width="5.0" stroke-linecap="round"/>
<line x1="130.50" y1="1770.60" x2="146.10" y2="1770.60" stroke="#231f20" stroke-width="5.0" stroke-linecap="round"/>
<line x1="129.50" y1="1770.60" x2="959.50" y2="1770.60" stroke="#231f20" stroke-width="5.6" stroke-linecap="round"/>
<line x1="201.20" y1="1770.60" x2="201.20" y2="1782.50" stroke="#231f20" stroke-width="5.0" stroke-linecap="round"/>
<line x1="316.50" y1="1770.60" x2="316.50" y2="1782.50" stroke="#231f20" stroke-width="5.0" stroke-linecap="round"/>
<line x1="434.70" y1="1770.60" x2="434.70" y2="1782.50" stroke="#231f20" stroke-width="5.0" stroke-linecap="round"/>
<line x1="553.20" y1="1770.60" x2="553.20" y2="1782.50" stroke="#231f20" stroke-width="5.0" stroke-linecap="round"/>
<line x1="671.90" y1="1770.60" x2="671.90" y2="1782.50" stroke="#231f20" stroke-width="5.0" stroke-linecap="round"/>
<line x1="790.60" y1="1770.60" x2="790.60" y2="1782.50" stroke="#231f20" stroke-width="5.0" stroke-linecap="round"/>
<line x1="908.90" y1="1770.60" x2="908.90" y2="1782.50" stroke="#231f20" stroke-width="5.0" stroke-linecap="round"/>
<text transform="translate(64.14 1340.90) scale(0.9615 1)" style="font-size:30.58px;letter-spacing:0.021px;">400</text>
<text transform="translate(64.90 1448.60) scale(0.9615 1)" style="font-size:30.58px;letter-spacing:-0.374px;">300</text>
<text transform="translate(63.83 1558.70) scale(0.9615 1)" style="font-size:30.58px;letter-spacing:0.181px;">200</text>
<text transform="translate(65.50 1667.90) scale(0.9615 1)" style="font-size:30.58px;letter-spacing:-0.685px;">100</text>
<text transform="translate(101.93 1777.50) scale(0.9615 1)" style="font-size:27.88px;">0</text>
<circle cx="167.30" cy="1763.20" r="7.0" fill="#231f20"/>
<circle cx="177.80" cy="1760.00" r="7.0" fill="#231f20"/>
<circle cx="188.20" cy="1763.20" r="7.0" fill="#231f20"/>
<circle cx="213.30" cy="1763.70" r="7.0" fill="#231f20"/>
<circle cx="224.10" cy="1761.50" r="7.0" fill="#231f20"/>
<circle cx="234.50" cy="1763.20" r="7.0" fill="#231f20"/>
<circle cx="283.30" cy="1670.10" r="7.2" fill="#231f20"/>
<circle cx="303.40" cy="1674.50" r="7.2" fill="#231f20"/>
<circle cx="293.10" cy="1709.50" r="7.2" fill="#231f20"/>
<circle cx="339.20" cy="1696.20" r="7.2" fill="#231f20"/>
<circle cx="329.30" cy="1714.70" r="7.2" fill="#231f20"/>
<circle cx="349.00" cy="1711.50" r="7.2" fill="#231f20"/>
<circle cx="402.20" cy="1659.80" r="7.2" fill="#231f20"/>
<circle cx="412.00" cy="1649.20" r="7.2" fill="#231f20"/>
<circle cx="422.40" cy="1654.80" r="7.2" fill="#231f20"/>
<circle cx="448.50" cy="1658.50" r="7.2" fill="#231f20"/>
<circle cx="448.50" cy="1678.20" r="7.2" fill="#231f20"/>
<circle cx="468.20" cy="1669.10" r="7.2" fill="#231f20"/>
<circle cx="531.20" cy="1422.00" r="7.2" fill="#231f20"/>
<circle cx="531.20" cy="1449.10" r="7.2" fill="#231f20"/>
<circle cx="531.20" cy="1509.70" r="7.2" fill="#231f20"/>
<circle cx="577.00" cy="1627.00" r="7.2" fill="#231f20"/>
<circle cx="567.70" cy="1651.60" r="7.2" fill="#231f20"/>
<circle cx="586.90" cy="1645.00" r="7.2" fill="#231f20"/>
<circle cx="640.60" cy="1405.00" r="7.2" fill="#231f20"/>
<circle cx="660.00" cy="1416.60" r="7.2" fill="#231f20"/>
<circle cx="650.20" cy="1465.80" r="7.2" fill="#231f20"/>
<circle cx="696.50" cy="1622.80" r="7.2" fill="#231f20"/>
<circle cx="686.70" cy="1640.00" r="7.2" fill="#231f20"/>
<circle cx="706.40" cy="1637.60" r="7.2" fill="#231f20"/>
<circle cx="765.80" cy="1689.80" r="7.2" fill="#231f20"/>
<circle cx="765.80" cy="1725.00" r="7.2" fill="#231f20"/>
<circle cx="765.80" cy="1734.90" r="7.2" fill="#231f20"/>
<circle cx="801.70" cy="1746.50" r="7.2" fill="#231f20"/>
<circle cx="812.10" cy="1742.30" r="7.2" fill="#231f20"/>
<circle cx="822.40" cy="1744.70" r="7.2" fill="#231f20"/>
<circle cx="875.40" cy="1736.10" r="7.2" fill="#231f20"/>
<circle cx="885.50" cy="1730.00" r="7.2" fill="#231f20"/>
<circle cx="895.30" cy="1730.70" r="7.2" fill="#231f20"/>
<circle cx="920.90" cy="1750.90" r="7.2" fill="#231f20"/>
<circle cx="931.00" cy="1745.50" r="7.2" fill="#231f20"/>
<circle cx="940.90" cy="1747.90" r="7.2" fill="#231f20"/>
<line x1="156.90" y1="1798.60" x2="238.20" y2="1798.60" stroke="#231f20" stroke-width="4.1" stroke-linecap="butt"/>
<line x1="273.40" y1="1798.60" x2="365.80" y2="1798.60" stroke="#231f20" stroke-width="4.1" stroke-linecap="butt"/>
<line x1="394.80" y1="1798.60" x2="478.50" y2="1798.60" stroke="#231f20" stroke-width="4.1" stroke-linecap="butt"/>
<line x1="512.30" y1="1798.60" x2="600.00" y2="1798.60" stroke="#231f20" stroke-width="4.1" stroke-linecap="butt"/>
<line x1="629.50" y1="1798.60" x2="721.60" y2="1798.60" stroke="#231f20" stroke-width="4.1" stroke-linecap="butt"/>
<line x1="746.80" y1="1798.60" x2="834.70" y2="1798.60" stroke="#231f20" stroke-width="4.1" stroke-linecap="butt"/>
<line x1="868.70" y1="1796.90" x2="956.90" y2="1796.90" stroke="#231f20" stroke-width="4.1" stroke-linecap="butt"/>
<text transform="translate(154.89 1837.80) scale(0.9615 1)" style="font-size:34.11px;">No Tx</text>
<text transform="translate(270.79 1837.80) scale(0.9615 1)" style="font-size:33.82px;">poly IC</text>
<text transform="translate(407.54 1838.00) scale(0.9615 1)" style="font-size:34.80px;">LPS</text>
<text transform="translate(516.98 1838.00) scale(0.9615 1)" style="font-size:34.25px;">R848</text>
<text transform="translate(624.67 1838.00) scale(0.9615 1)" style="font-size:33.88px;">CpG A</text>
<text transform="translate(762.24 1837.80) scale(0.9615 1)" style="font-size:34.38px;">ISD</text>
<text transform="translate(852.60 1834.60) scale(0.9615 1)" style="font-size:33.90px;">5’pdsRNA</text>
<rect x="170.10" y="1344.00" width="50.20" height="25.10" fill="#adafb2" stroke="#231f20" stroke-width="5.2"/>
<rect x="170.10" y="1389.10" width="50.20" height="25.60" fill="#fff" stroke="#231f20" stroke-width="5.2"/>
<text transform="translate(238.25 1368.50) scale(0.9615 1)" style="font-size:30.57px;">WT</text>
<text transform="translate(236.88 1412.90) scale(0.9615 1)" style="font-size:31.79px;">KO</text>
<line x1="515.60" y1="1333.10" x2="668.00" y2="1333.10" stroke="#231f20" stroke-width="2.9" stroke-linecap="round"/>
<text transform="translate(548.04 1320.00) scale(0.9615 1)" style="font-size:22.48px;font-style:italic;">p &lt; 0.0001</text>
<line x1="497.20" y1="1373.70" x2="573.90" y2="1373.70" stroke="#231f20" stroke-width="2.9" stroke-linecap="round"/>
<text transform="translate(510.78 1376.30) scale(0.9615 1)" style="font-size:30.68px;letter-spacing:2.491px;">***</text>
<line x1="615.40" y1="1373.70" x2="692.60" y2="1373.70" stroke="#231f20" stroke-width="2.9" stroke-linecap="round"/>
<text transform="translate(631.98 1376.30) scale(0.9615 1)" style="font-size:30.68px;letter-spacing:2.439px;">***</text>
<line x1="279.70" y1="1622.30" x2="355.70" y2="1622.30" stroke="#231f20" stroke-width="2.9" stroke-linecap="round"/>
<text transform="translate(298.61 1617.10) scale(0.9615 1)" style="font-size:29.12px;letter-spacing:0.575px;">n.s.</text>
<line x1="394.50" y1="1623.30" x2="474.70" y2="1623.30" stroke="#231f20" stroke-width="2.9" stroke-linecap="round"/>
<text transform="translate(413.31 1617.10) scale(0.9615 1)" style="font-size:29.12px;letter-spacing:1.269px;">n.s.</text>
<line x1="752.60" y1="1624.50" x2="825.90" y2="1624.50" stroke="#231f20" stroke-width="2.9" stroke-linecap="round"/>
<text transform="translate(768.31 1617.10) scale(0.9615 1)" style="font-size:29.12px;letter-spacing:0.818px;">n.s.</text>
<line x1="871.40" y1="1625.30" x2="944.40" y2="1625.30" stroke="#231f20" stroke-width="2.9" stroke-linecap="round"/>
<text transform="translate(884.61 1617.10) scale(0.9615 1)" style="font-size:29.12px;letter-spacing:1.061px;">n.s.</text>
</g>
<g id="panel-d1">
<text transform="translate(-1.06 1926.50) scale(1.0185 1)" style="font-size:43.16px;font-weight:bold;">d</text>
<text transform="translate(345.47 1963.40) scale(0.9615 1)" style="font-size:34.58px;font-style:italic;">Il-6</text>
<text transform="translate(44.30 2329.98) rotate(-90) scale(0.9615 1)" style="font-size:33.80px;letter-spacing:0.056px;white-space:pre;" xml:space="preserve">Relative Expression</text>
<text transform="translate(85.50 2260.10) rotate(-90) scale(0.9615 1)" style="font-size:33.80px;letter-spacing:-0.096px;font-style:italic;white-space:pre;" xml:space="preserve">Il-6/β-actin</text>
<text transform="translate(106.44 2019.80) scale(0.9615 1)" style="font-size:30.16px;letter-spacing:4.780px;">0.06</text>
<text transform="translate(106.44 2143.70) scale(0.9615 1)" style="font-size:30.16px;letter-spacing:4.629px;">0.04</text>
<text transform="translate(106.44 2267.00) scale(0.9615 1)" style="font-size:30.16px;letter-spacing:4.855px;">0.02</text>
<text transform="translate(106.44 2391.40) scale(0.9615 1)" style="font-size:30.16px;letter-spacing:4.729px;">0.00</text>
<text transform="translate(197.83 2434.50) scale(0.9721 1)" style="font-size:30.16px;">0</text>
<text transform="translate(248.12 2434.50) scale(0.9980 1)" style="font-size:30.16px;">4</text>
<text transform="translate(296.19 2434.50) scale(1.0229 1)" style="font-size:30.16px;">8</text>
<text transform="translate(340.22 2434.50) scale(0.9615 1)" style="font-size:30.16px;letter-spacing:-2.356px;">12</text>
<text transform="translate(386.52 2434.50) scale(0.9615 1)" style="font-size:30.16px;letter-spacing:-1.230px;">16</text>
<text transform="translate(435.75 2434.50) scale(0.9615 1)" style="font-size:30.16px;letter-spacing:0.673px;">20</text>
<text transform="translate(484.05 2434.50) scale(0.9615 1)" style="font-size:30.16px;letter-spacing:0.580px;">24</text>
<text transform="translate(535.05 2434.50) scale(0.9615 1)" style="font-size:30.16px;letter-spacing:0.720px;">28</text>
<text transform="translate(330.05 2475.10) scale(0.9615 1)" style="font-size:34.51px;">Time (hr)</text>
<clipPath id="clipd1"><rect x="202.5" y="1990" width="420" height="391.5"/></clipPath><g clip-path="url(#clipd1)">
<polyline points="230.3,2372.9 254.4,2344.1 303.0,2335.9 497.8,2317.5" fill="none" stroke="#231f20" stroke-width="5.3" stroke-linejoin="round"/>
<line x1="497.80" y1="2303.90" x2="497.80" y2="2330.50" stroke="#231f20" stroke-width="4.8" stroke-linecap="butt"/>
<line x1="487.05" y1="2303.90" x2="508.55" y2="2303.90" stroke="#231f20" stroke-width="4.8" stroke-linecap="round"/>
<line x1="487.05" y1="2330.50" x2="508.55" y2="2330.50" stroke="#231f20" stroke-width="4.8" stroke-linecap="round"/>
<circle cx="230.30" cy="2372.90" r="10.3" fill="#fff" stroke="#231f20" stroke-width="5.2"/>
<circle cx="254.40" cy="2344.10" r="10.3" fill="#fff" stroke="#231f20" stroke-width="5.2"/>
<circle cx="303.00" cy="2335.90" r="10.3" fill="#fff" stroke="#231f20" stroke-width="5.2"/>
<circle cx="497.80" cy="2317.50" r="10.3" fill="#fff" stroke="#231f20" stroke-width="5.2"/>
<polyline points="208.0,2375.5 230.3,2358.1 254.4,2283.5 303.0,2242.3 497.8,2103.8" fill="none" stroke="#231f20" stroke-width="5.3" stroke-linejoin="round"/>
<line x1="303.00" y1="2215.30" x2="303.00" y2="2269.90" stroke="#231f20" stroke-width="4.8" stroke-linecap="butt"/>
<line x1="292.25" y1="2215.30" x2="313.75" y2="2215.30" stroke="#231f20" stroke-width="4.8" stroke-linecap="round"/>
<line x1="292.25" y1="2269.90" x2="313.75" y2="2269.90" stroke="#231f20" stroke-width="4.8" stroke-linecap="round"/>
<line x1="497.80" y1="2070.50" x2="497.80" y2="2136.80" stroke="#231f20" stroke-width="4.8" stroke-linecap="butt"/>
<line x1="487.05" y1="2070.50" x2="508.55" y2="2070.50" stroke="#231f20" stroke-width="4.8" stroke-linecap="round"/>
<line x1="487.05" y1="2136.80" x2="508.55" y2="2136.80" stroke="#231f20" stroke-width="4.8" stroke-linecap="round"/>
<circle cx="208.00" cy="2375.50" r="11.2" fill="#231f20"/>
<circle cx="230.30" cy="2358.10" r="11.2" fill="#231f20"/>
<circle cx="254.40" cy="2283.50" r="11.2" fill="#231f20"/>
<circle cx="303.00" cy="2242.30" r="11.2" fill="#231f20"/>
<circle cx="497.80" cy="2103.80" r="11.2" fill="#231f20"/>
</g>
<line x1="202.50" y1="2011.80" x2="202.50" y2="2379.50" stroke="#231f20" stroke-width="5.0" stroke-linecap="round"/>
<line x1="192.50" y1="2013.90" x2="202.50" y2="2013.90" stroke="#231f20" stroke-width="5.0" stroke-linecap="round"/>
<line x1="192.50" y1="2135.60" x2="202.50" y2="2135.60" stroke="#231f20" stroke-width="5.0" stroke-linecap="round"/>
<line x1="192.50" y1="2257.30" x2="202.50" y2="2257.30" stroke="#231f20" stroke-width="5.0" stroke-linecap="round"/>
<line x1="192.50" y1="2379.00" x2="202.50" y2="2379.00" stroke="#231f20" stroke-width="5.0" stroke-linecap="round"/>
<line x1="192.50" y1="2379.50" x2="574.00" y2="2379.50" stroke="#231f20" stroke-width="5.2" stroke-linecap="round"/>
<line x1="206.90" y1="2379.50" x2="206.90" y2="2389.60" stroke="#231f20" stroke-width="5.0" stroke-linecap="round"/>
<line x1="255.60" y1="2379.50" x2="255.60" y2="2389.60" stroke="#231f20" stroke-width="5.0" stroke-linecap="round"/>
<line x1="304.30" y1="2379.50" x2="304.30" y2="2389.60" stroke="#231f20" stroke-width="5.0" stroke-linecap="round"/>
<line x1="353.00" y1="2379.50" x2="353.00" y2="2389.60" stroke="#231f20" stroke-width="5.0" stroke-linecap="round"/>
<line x1="401.70" y1="2379.50" x2="401.70" y2="2389.60" stroke="#231f20" stroke-width="5.0" stroke-linecap="round"/>
<line x1="450.40" y1="2379.50" x2="450.40" y2="2389.60" stroke="#231f20" stroke-width="5.0" stroke-linecap="round"/>
<line x1="499.10" y1="2379.50" x2="499.10" y2="2389.60" stroke="#231f20" stroke-width="5.0" stroke-linecap="round"/>
<line x1="547.80" y1="2379.50" x2="547.80" y2="2389.60" stroke="#231f20" stroke-width="5.0" stroke-linecap="round"/>
<line x1="236.90" y1="2038.00" x2="275.60" y2="2038.00" stroke="#231f20" stroke-width="5.0" stroke-linecap="round"/>
<circle cx="256.20" cy="2038.00" r="11.2" fill="#231f20"/>
<line x1="236.90" y1="2083.80" x2="275.60" y2="2083.80" stroke="#231f20" stroke-width="5.0" stroke-linecap="round"/>
<circle cx="256.20" cy="2083.80" r="10.3" fill="#fff" stroke="#231f20" stroke-width="5.2"/>
<text transform="translate(301.56 2051.60) scale(0.9615 1)" style="font-size:29.34px;">WT</text>
<text transform="translate(300.56 2093.90) scale(0.9615 1)" style="font-size:30.77px;">KO</text>
<line x1="468.70" y1="2045.70" x2="527.80" y2="2045.70" stroke="#231f20" stroke-width="4.0" stroke-linecap="butt"/>
<text transform="translate(479.98 2048.50) scale(0.9615 1)" style="font-size:30.68px;letter-spacing:2.127px;">***</text>
<text transform="translate(468.74 2008.20) scale(0.9615 1)" style="font-size:22.59px;font-style:italic;">p &lt; 0.0001</text>
<line x1="283.30" y1="2179.40" x2="320.70" y2="2179.40" stroke="#231f20" stroke-width="4.0" stroke-linecap="butt"/>
<text transform="translate(291.38 2180.60) scale(0.9615 1)" style="font-size:30.68px;letter-spacing:1.479px;">**</text>
<text transform="translate(284.24 2143.20) scale(0.9615 1)" style="font-size:22.36px;font-style:italic;">p= 0.0019</text>
<line x1="238.20" y1="2235.00" x2="272.20" y2="2235.00" stroke="#231f20" stroke-width="4.0" stroke-linecap="butt"/>
<text transform="translate(248.99 2239.50) scale(0.9549 1)" style="font-size:30.68px;">*</text>
<text transform="translate(220.94 2206.60) scale(0.9615 1)" style="font-size:22.43px;font-style:italic;">p= 0.0402</text>
</g>
<g id="panel-d2">
<text transform="translate(903.91 1963.20) scale(0.9615 1)" style="font-size:33.45px;font-style:italic;">Ifn-β</text>
<text transform="translate(614.00 2260.10) rotate(-90) scale(0.9615 1)" style="font-size:33.80px;letter-spacing:-0.148px;font-style:italic;white-space:pre;" xml:space="preserve">Ifn-β/β-actin</text>
<line x1="756.20" y1="2009.80" x2="756.20" y2="2381.00" stroke="#231f20" stroke-width="5.0" stroke-linecap="round"/>
<line x1="745.80" y1="2011.70" x2="756.20" y2="2011.70" stroke="#231f20" stroke-width="5.0" stroke-linecap="round"/>
<line x1="745.80" y1="2102.90" x2="756.20" y2="2102.90" stroke="#231f20" stroke-width="5.0" stroke-linecap="round"/>
<line x1="745.80" y1="2194.10" x2="756.20" y2="2194.10" stroke="#231f20" stroke-width="5.0" stroke-linecap="round"/>
<line x1="745.80" y1="2285.30" x2="756.20" y2="2285.30" stroke="#231f20" stroke-width="5.0" stroke-linecap="round"/>
<line x1="756.20" y1="2380.60" x2="1134.00" y2="2380.60" stroke="#231f20" stroke-width="5.2" stroke-linecap="round"/>
<line x1="756.80" y1="2380.60" x2="756.80" y2="2389.80" stroke="#231f20" stroke-width="5.0" stroke-linecap="round"/>
<line x1="805.53" y1="2380.60" x2="805.53" y2="2389.80" stroke="#231f20" stroke-width="5.0" stroke-linecap="round"/>
<line x1="854.26" y1="2380.60" x2="854.26" y2="2389.80" stroke="#231f20" stroke-width="5.0" stroke-linecap="round"/>
<line x1="902.99" y1="2380.60" x2="902.99" y2="2389.80" stroke="#231f20" stroke-width="5.0" stroke-linecap="round"/>
<line x1="951.72" y1="2380.60" x2="951.72" y2="2389.80" stroke="#231f20" stroke-width="5.0" stroke-linecap="round"/>
<line x1="1000.45" y1="2380.60" x2="1000.45" y2="2389.80" stroke="#231f20" stroke-width="5.0" stroke-linecap="round"/>
<line x1="1049.18" y1="2380.60" x2="1049.18" y2="2389.80" stroke="#231f20" stroke-width="5.0" stroke-linecap="round"/>
<line x1="1097.91" y1="2380.60" x2="1097.91" y2="2389.80" stroke="#231f20" stroke-width="5.0" stroke-linecap="round"/>
<text transform="translate(641.04 2021.00) scale(0.9615 1)" style="font-size:30.16px;letter-spacing:3.714px;">0.004</text>
<text transform="translate(641.04 2112.90) scale(0.9615 1)" style="font-size:30.16px;letter-spacing:3.827px;">0.003</text>
<text transform="translate(641.04 2202.90) scale(0.9615 1)" style="font-size:30.16px;letter-spacing:3.884px;">0.002</text>
<text transform="translate(641.04 2294.10) scale(0.9615 1)" style="font-size:30.16px;letter-spacing:2.903px;">0.001</text>
<text transform="translate(641.04 2391.40) scale(0.9615 1)" style="font-size:30.16px;letter-spacing:3.789px;">0.000</text>
<text transform="translate(746.93 2434.50) scale(0.9721 1)" style="font-size:30.16px;">0</text>
<text transform="translate(797.42 2434.50) scale(0.9980 1)" style="font-size:30.16px;">4</text>
<text transform="translate(845.31 2434.50) scale(1.0088 1)" style="font-size:30.16px;">8</text>
<text transform="translate(888.73 2434.50) scale(0.9615 1)" style="font-size:30.16px;letter-spacing:-1.524px;">12</text>
<text transform="translate(936.83 2434.50) scale(0.9615 1)" style="font-size:30.16px;letter-spacing:-1.854px;">16</text>
<text transform="translate(985.15 2434.50) scale(0.9615 1)" style="font-size:30.16px;letter-spacing:0.465px;">20</text>
<text transform="translate(1033.15 2434.50) scale(0.9615 1)" style="font-size:30.16px;letter-spacing:0.164px;">24</text>
<text transform="translate(1084.15 2434.50) scale(0.9615 1)" style="font-size:30.16px;letter-spacing:0.824px;">28</text>
<text transform="translate(879.15 2475.10) scale(0.9615 1)" style="font-size:34.51px;">Time (hr)</text>
<circle cx="754.20" cy="2379.00" r="12.9" fill="#231f20"/>
<polyline points="754.2,2378.5 779.6,2350.2 804.2,2249.0 852.8,2175.2 1047.4,2319.9" fill="none" stroke="#231f20" stroke-width="5.3" stroke-linejoin="round"/>
<line x1="804.20" y1="2209.80" x2="804.20" y2="2288.40" stroke="#231f20" stroke-width="4.8" stroke-linecap="butt"/>
<line x1="793.45" y1="2209.80" x2="814.95" y2="2209.80" stroke="#231f20" stroke-width="4.8" stroke-linecap="round"/>
<line x1="793.45" y1="2288.40" x2="814.95" y2="2288.40" stroke="#231f20" stroke-width="4.8" stroke-linecap="round"/>
<line x1="852.80" y1="2102.60" x2="852.80" y2="2248.00" stroke="#231f20" stroke-width="4.8" stroke-linecap="butt"/>
<line x1="842.05" y1="2102.60" x2="863.55" y2="2102.60" stroke="#231f20" stroke-width="4.8" stroke-linecap="round"/>
<line x1="842.05" y1="2248.00" x2="863.55" y2="2248.00" stroke="#231f20" stroke-width="4.8" stroke-linecap="round"/>
<circle cx="754.20" cy="2378.50" r="11.2" fill="#231f20"/>
<circle cx="779.60" cy="2350.20" r="11.2" fill="#231f20"/>
<circle cx="804.20" cy="2249.00" r="11.2" fill="#231f20"/>
<circle cx="852.80" cy="2175.20" r="11.2" fill="#231f20"/>
<circle cx="1047.40" cy="2319.90" r="11.2" fill="#231f20"/>
<polyline points="779.6,2374.9 804.2,2352.7 852.8,2365.5 1047.4,2373.6" fill="none" stroke="#231f20" stroke-width="5.3" stroke-linejoin="round"/>
<circle cx="779.60" cy="2374.90" r="10.3" fill="#fff" stroke="#231f20" stroke-width="5.2"/>
<circle cx="804.20" cy="2352.70" r="10.3" fill="#fff" stroke="#231f20" stroke-width="5.2"/>
<circle cx="852.80" cy="2365.50" r="10.3" fill="#fff" stroke="#231f20" stroke-width="5.2"/>
<circle cx="1047.40" cy="2373.60" r="10.3" fill="#fff" stroke="#231f20" stroke-width="5.2"/>
<line x1="827.60" y1="2069.10" x2="879.90" y2="2069.10" stroke="#231f20" stroke-width="4.0" stroke-linecap="butt"/>
<text transform="translate(831.78 2072.00) scale(0.9615 1)" style="font-size:30.68px;letter-spacing:2.231px;">***</text>
<text transform="translate(820.04 2034.60) scale(0.9615 1)" style="font-size:22.64px;font-style:italic;">p = 0.0008</text>
</g>
<g id="panel-d3">
<text transform="translate(1463.73 1963.20) scale(0.9615 1)" style="font-size:33.07px;font-style:italic;">Ifit1</text>
<text transform="translate(1179.20 2253.10) rotate(-90) scale(0.9615 1)" style="font-size:33.80px;letter-spacing:-0.022px;font-style:italic;white-space:pre;" xml:space="preserve">Ifit1/β-actin</text>
<line x1="1302.30" y1="2009.30" x2="1302.30" y2="2381.00" stroke="#231f20" stroke-width="5.0" stroke-linecap="round"/>
<line x1="1291.80" y1="2010.70" x2="1302.30" y2="2010.70" stroke="#231f20" stroke-width="5.0" stroke-linecap="round"/>
<line x1="1291.80" y1="2083.80" x2="1302.30" y2="2083.80" stroke="#231f20" stroke-width="5.0" stroke-linecap="round"/>
<line x1="1291.80" y1="2156.80" x2="1302.30" y2="2156.80" stroke="#231f20" stroke-width="5.0" stroke-linecap="round"/>
<line x1="1291.80" y1="2229.80" x2="1302.30" y2="2229.80" stroke="#231f20" stroke-width="5.0" stroke-linecap="round"/>
<line x1="1291.80" y1="2302.80" x2="1302.30" y2="2302.80" stroke="#231f20" stroke-width="5.0" stroke-linecap="round"/>
<line x1="1302.30" y1="2380.60" x2="1669.40" y2="2380.60" stroke="#231f20" stroke-width="5.2" stroke-linecap="round"/>
<line x1="1302.30" y1="2380.60" x2="1302.30" y2="2389.80" stroke="#231f20" stroke-width="5.0" stroke-linecap="round"/>
<line x1="1351.05" y1="2380.60" x2="1351.05" y2="2389.80" stroke="#231f20" stroke-width="5.0" stroke-linecap="round"/>
<line x1="1399.80" y1="2380.60" x2="1399.80" y2="2389.80" stroke="#231f20" stroke-width="5.0" stroke-linecap="round"/>
<line x1="1448.55" y1="2380.60" x2="1448.55" y2="2389.80" stroke="#231f20" stroke-width="5.0" stroke-linecap="round"/>
<line x1="1497.30" y1="2380.60" x2="1497.30" y2="2389.80" stroke="#231f20" stroke-width="5.0" stroke-linecap="round"/>
<line x1="1546.05" y1="2380.60" x2="1546.05" y2="2389.80" stroke="#231f20" stroke-width="5.0" stroke-linecap="round"/>
<line x1="1594.80" y1="2380.60" x2="1594.80" y2="2389.80" stroke="#231f20" stroke-width="5.0" stroke-linecap="round"/>
<line x1="1643.55" y1="2380.60" x2="1643.55" y2="2389.80" stroke="#231f20" stroke-width="5.0" stroke-linecap="round"/>
<text transform="translate(1209.54 2019.50) scale(0.9615 1)" style="font-size:30.11px;">0.05</text>
<text transform="translate(1209.55 2092.20) scale(0.9615 1)" style="font-size:29.91px;">0.04</text>
<text transform="translate(1209.54 2168.50) scale(0.9615 1)" style="font-size:30.15px;">0.03</text>
<text transform="translate(1209.54 2242.60) scale(0.9615 1)" style="font-size:30.27px;">0.02</text>
<text transform="translate(1209.59 2315.60) scale(0.9615 1)" style="font-size:28.95px;">0.01</text>
<text transform="translate(1209.54 2391.40) scale(0.9615 1)" style="font-size:30.07px;">0.00</text>
<text transform="translate(1294.30 2434.50) scale(0.9930 1)" style="font-size:30.16px;">0</text>
<text transform="translate(1344.92 2434.50) scale(0.9980 1)" style="font-size:30.16px;">4</text>
<text transform="translate(1393.51 2434.50) scale(1.0088 1)" style="font-size:30.16px;">8</text>
<text transform="translate(1435.73 2434.50) scale(0.9615 1)" style="font-size:30.16px;letter-spacing:-0.692px;">12</text>
<text transform="translate(1484.33 2434.50) scale(0.9615 1)" style="font-size:30.16px;letter-spacing:-1.542px;">16</text>
<text transform="translate(1533.05 2434.50) scale(0.9615 1)" style="font-size:30.16px;letter-spacing:0.153px;">20</text>
<text transform="translate(1581.05 2434.50) scale(0.9615 1)" style="font-size:30.16px;letter-spacing:0.372px;">24</text>
<text transform="translate(1632.25 2434.50) scale(0.9615 1)" style="font-size:30.16px;letter-spacing:0.616px;">28</text>
<text transform="translate(1435.45 2475.10) scale(0.9615 1)" style="font-size:34.51px;">Time (hr)</text>
<circle cx="1301.10" cy="2378.20" r="12.9" fill="#231f20"/>
<polyline points="1301.1,2377.8 1325.4,2359.8 1349.8,2209.8 1398.5,2212.3 1593.1,2100.1" fill="none" stroke="#231f20" stroke-width="5.3" stroke-linejoin="round"/>
<line x1="1593.10" y1="2054.50" x2="1593.10" y2="2145.40" stroke="#231f20" stroke-width="4.8" stroke-linecap="butt"/>
<line x1="1582.35" y1="2054.50" x2="1603.85" y2="2054.50" stroke="#231f20" stroke-width="4.8" stroke-linecap="round"/>
<line x1="1582.35" y1="2145.40" x2="1603.85" y2="2145.40" stroke="#231f20" stroke-width="4.8" stroke-linecap="round"/>
<circle cx="1301.10" cy="2377.80" r="11.2" fill="#231f20"/>
<circle cx="1325.40" cy="2359.80" r="11.2" fill="#231f20"/>
<circle cx="1349.80" cy="2209.80" r="11.2" fill="#231f20"/>
<circle cx="1398.50" cy="2212.30" r="11.2" fill="#231f20"/>
<circle cx="1593.10" cy="2100.10" r="11.2" fill="#231f20"/>
<polyline points="1325.4,2377.8 1349.8,2347.5 1398.5,2306.4 1593.1,2342.8" fill="none" stroke="#231f20" stroke-width="5.3" stroke-linejoin="round"/>
<line x1="1398.50" y1="2291.10" x2="1398.50" y2="2321.70" stroke="#231f20" stroke-width="4.8" stroke-linecap="butt"/>
<line x1="1387.75" y1="2291.10" x2="1409.25" y2="2291.10" stroke="#231f20" stroke-width="4.8" stroke-linecap="round"/>
<line x1="1387.75" y1="2321.70" x2="1409.25" y2="2321.70" stroke="#231f20" stroke-width="4.8" stroke-linecap="round"/>
<circle cx="1325.40" cy="2377.80" r="10.3" fill="#fff" stroke="#231f20" stroke-width="5.2"/>
<circle cx="1349.80" cy="2347.50" r="10.3" fill="#fff" stroke="#231f20" stroke-width="5.2"/>
<circle cx="1398.50" cy="2306.40" r="10.3" fill="#fff" stroke="#231f20" stroke-width="5.2"/>
<circle cx="1593.10" cy="2342.80" r="10.3" fill="#fff" stroke="#231f20" stroke-width="5.2"/>
<line x1="1563.50" y1="2021.00" x2="1626.40" y2="2021.00" stroke="#231f20" stroke-width="4.0" stroke-linecap="butt"/>
<text transform="translate(1575.38 2023.70) scale(0.9615 1)" style="font-size:30.68px;letter-spacing:2.075px;">***</text>
<text transform="translate(1564.04 1992.20) scale(0.9615 1)" style="font-size:22.55px;font-style:italic;">p &lt; 0.0001</text>
<line x1="1380.00" y1="2119.80" x2="1417.70" y2="2119.80" stroke="#231f20" stroke-width="4.0" stroke-linecap="butt"/>
<text transform="translate(1388.18 2121.50) scale(0.9615 1)" style="font-size:30.68px;letter-spacing:2.727px;">**</text>
<text transform="translate(1361.63 2072.80) scale(0.9615 1)" style="font-size:22.21px;font-style:italic;">p = 0.0027</text>
<line x1="1324.10" y1="2180.90" x2="1376.40" y2="2180.90" stroke="#231f20" stroke-width="4.0" stroke-linecap="butt"/>
<text transform="translate(1329.08 2182.80) scale(0.9615 1)" style="font-size:30.68px;letter-spacing:1.815px;">***</text>
<text transform="translate(1319.04 2151.10) scale(0.9615 1)" style="font-size:22.53px;font-style:italic;">p = 0.0001</text>
</g>
</svg>
</body></html>
